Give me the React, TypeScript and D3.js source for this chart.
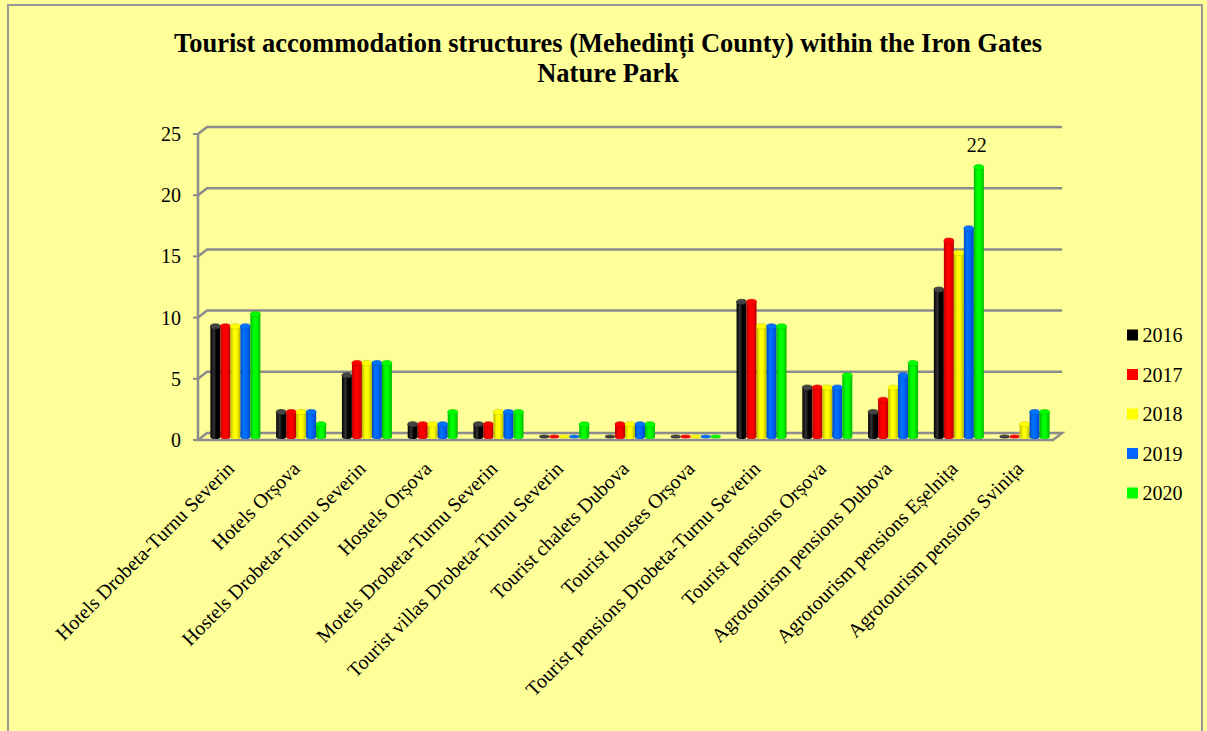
import React from "react";
import * as d3 from "d3";

const categories = [
  "Hotels Drobeta-Turnu Severin",
  "Hotels Orșova",
  "Hostels Drobeta-Turnu Severin",
  "Hostels Orșova",
  "Motels Drobeta-Turnu Severin",
  "Tourist villas Drobeta-Turnu Severin",
  "Tourist chalets Dubova",
  "Tourist houses Orșova",
  "Tourist pensions Drobeta-Turnu Severin",
  "Tourist pensions Orșova",
  "Agrotourism pensions Dubova",
  "Agrotourism pensions Eșelnița",
  "Agrotourism pensions Svinița",
];
const years = ["2016", "2017", "2018", "2019", "2020"];
const v2016 = [9, 2, 5, 1, 1, 0, 0, 0, 11, 4, 2, 12, 0];
const v2017 = [9, 2, 6, 1, 1, 0, 1, 0, 11, 4, 3, 16, 0];
const v2018 = [9, 2, 6, 1, 2, 0, 1, 0, 9, 4, 4, 15, 1];
const v2019 = [9, 2, 6, 1, 2, 0, 1, 0, 9, 4, 5, 17, 2];
const v2020 = [10, 1, 6, 2, 2, 1, 1, 0, 9, 5, 6, 22, 2];
const series = [v2016, v2017, v2018, v2019, v2020];
const colors = ["#000000", "#FF0000", "#FFFF00", "#0066FF", "#00FF00"];
const yTicks = [0, 5, 10, 15, 20, 25];

const W = 1207;
const H = 731;
const X0 = 198;
const X1 = 1053;
const DX = 9;
const DY = -7;
const FONT = "Liberation Serif, Times New Roman, serif";

export default function App() {
  const y = d3.scaleLinear().domain([0, 25]).range([440, 134]);
  const x = d3.scaleBand<string>().domain(categories).range([X0, X1]).paddingInner(0.24).paddingOuter(0.12);
  const xi = d3.scaleBand<string>().domain(years).range([0, x.bandwidth()]).padding(0);
  const bw = xi.bandwidth();
  const ry = 2.6;
  const bx = DX / 2;
  const by = DY / 2;

  return (
    <svg width={W} height={H} style={{ position: "absolute", left: 0, top: 0, fontFamily: FONT }}>
      <defs>
        {colors.map((c, i) => {
          const base = d3.color(c)!;
          const dark = (base as any).darker(i === 0 ? 0 : 0.9).toString();
          const light = (base as any).brighter(i === 0 ? 1.2 : 0.4).toString();
          return (
            <linearGradient id={"g" + i} key={i} x1="0" x2="1" y1="0" y2="0">
              <stop offset="0" stopColor={dark} />
              <stop offset="0.35" stopColor={i === 0 ? "#333" : light} />
              <stop offset="0.6" stopColor={c} />
              <stop offset="1" stopColor={dark} />
            </linearGradient>
          );
        })}
      </defs>
      <rect x={0} y={0} width={W} height={H} fill="#FFFF99" />
      <rect x={8} y={5} width={1194} height={740} fill="#FFFF99" stroke="#999" strokeWidth={2} />
      <text x={608} y={52} textAnchor="middle" fontSize={26.5} fontWeight="bold">
        Tourist accommodation structures (Mehedinți County) within the Iron Gates
      </text>
      <text x={608} y={82} textAnchor="middle" fontSize={26.5} fontWeight="bold">
        Nature Park
      </text>

      <polygon
        points={`${X0},${y(0)} ${X1},${y(0)} ${X1 + DX},${y(0) + DY} ${X0 + DX},${y(0) + DY}`}
        fill="#FFFF99"
        stroke="#8C8C8C"
        strokeWidth={2.5}
      />
      <line x1={X0} x2={X0} y1={y(25)} y2={y(0)} stroke="#8C8C8C" strokeWidth={2.5} />
      {yTicks.map((t) => (
        <g key={t}>
          {t > 0 && (
            <polyline
              points={`${X0},${y(t)} ${X0 + DX},${y(t) + DY} ${X1 + DX},${y(t) + DY}`}
              fill="none"
              stroke="#8C8C8C"
              strokeWidth={2.5}
            />
          )}
          <line x1={X0 - 5} x2={X0} y1={y(t)} y2={y(t)} stroke="#8C8C8C" strokeWidth={2} />
          <text x={181} y={y(t) + 7} textAnchor="end" fontSize={20}>
            {t}
          </text>
        </g>
      ))}

      {categories.map((cat, ci) => (
        <g key={cat}>
          {years.map((yr, si) => {
            const v = series[si][ci];
            const left = (x(cat) as number) + (xi(yr) as number) + bx;
            const cx = left + bw / 2;
            const base = y(0) + by;
            const top = y(v) + by;
            return (
              <g key={yr}>
                {v > 0 && (
                  <>
                    <rect x={left} y={top} width={bw} height={base - top} fill={`url(#g${si})`} />
                    <ellipse cx={cx} cy={base} rx={bw / 2} ry={ry} fill={`url(#g${si})`} />
                  </>
                )}
                <ellipse
                  cx={cx}
                  cy={top}
                  rx={bw / 2}
                  ry={v > 0 ? ry : 1.6}
                  fill={si === 0 ? "#444" : (d3.color(colors[si]) as any).brighter(0.3).toString()}
                  stroke={si === 0 ? "#222" : (d3.color(colors[si]) as any).darker(0.6).toString()}
                  strokeWidth={0.6}
                />
              </g>
            );
          })}
        </g>
      ))}

      <text
        x={(x(categories[11]) as number) + (xi("2020") as number) + bx + bw / 2 - 2}
        y={y(22) + by - 15}
        textAnchor="middle"
        fontSize={20}
      >
        22
      </text>

      {categories.map((cat) => {
        const lx = (x(cat) as number) + x.bandwidth() / 2 + bx;
        const ly = 470;
        return (
          <text key={cat} x={lx} y={ly} textAnchor="end" fontSize={20} transform={`rotate(-45 ${lx} ${ly})`}>
            {cat}
          </text>
        );
      })}

      {years.map((yr, i) => {
        const ly = 335 + i * 39.5;
        return (
          <g key={yr}>
            <rect x={1127} y={ly - 5.5} width={11} height={11} fill={colors[i]} />
            <text x={1142.5} y={ly + 7} fontSize={20}>
              {yr}
            </text>
          </g>
        );
      })}
    </svg>
  );
}
